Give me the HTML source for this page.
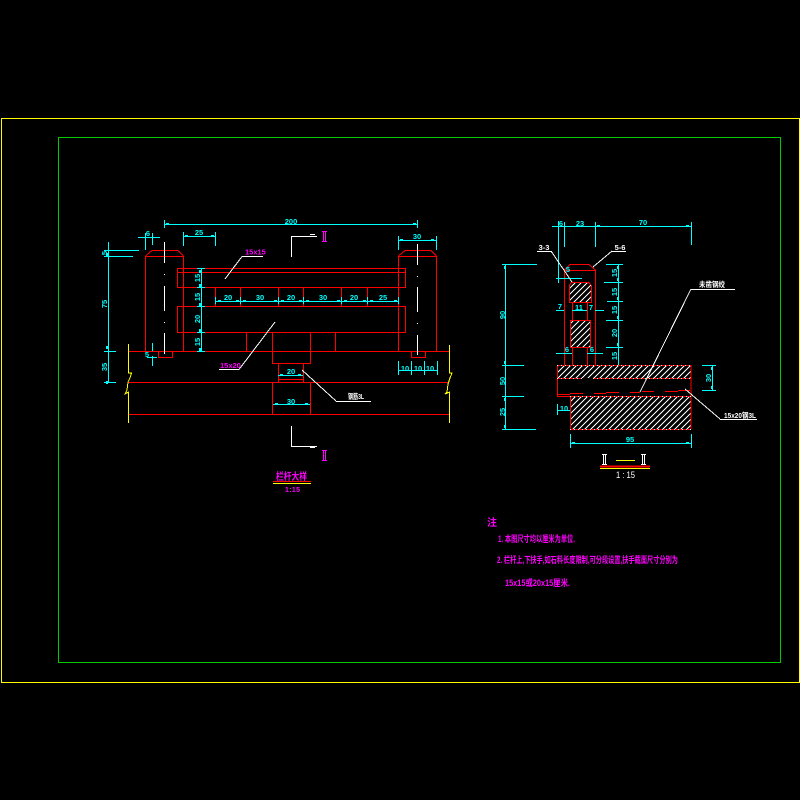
<!DOCTYPE html>
<html><head><meta charset="utf-8"><style>
html,body{margin:0;padding:0;background:#000}
svg{display:block}
text{font-family:"Liberation Sans","Noto Sans CJK SC",sans-serif;font-size:7.5px;font-weight:bold;text-anchor:middle}
.r{stroke:#f00;fill:none}.c{stroke:#0ff;fill:none}.w{stroke:#fff;fill:none}.y{stroke:#ff0;fill:none}
.ct{fill:#0ff}.mt{fill:#f0f;text-anchor:start}.wt{fill:#fff}
</style></head><body>
<svg width="800" height="800" viewBox="0 0 800 800" xmlns="http://www.w3.org/2000/svg" shape-rendering="crispEdges">
<defs><pattern id="h" width="6" height="6" patternUnits="userSpaceOnUse"><path d="M-1 7L7 -1M-1 1L1 -1M5 7L7 5" stroke="#fff" stroke-width="1"/></pattern></defs>
<rect width="800" height="800" fill="#000"/>
<rect x="1.5" y="118.5" width="798" height="564" class="y"/>
<rect x="58.5" y="137.5" width="722" height="525" stroke="#0c0" fill="none"/>

<!-- left elevation red -->
<g class="r">
<path d="M145.5 351V256.5H183.5V351M398.5 351V256.5H436.5V351"/>
<path d="M177.5 268.5H405.5V287.5H177.5ZM177.5 272.5H405.5M177.5 306.5H405.5V332.5H177.5Z"/>
<path d="M215.5 287.5V306.5M240.5 287.5V306.5M278.5 287.5V306.5M303.5 287.5V306.5M341.5 287.5V306.5M367.5 287.5V306.5M398.5 287.5V306.5"/>
<path d="M128 351.5H449M128 382.5H449M128 414.5H449"/>
<path d="M246.5 332.5V351M335.5 332.5V351M272.5 332.5V363.5H310.5V332.5M278.5 363.5V382M303.5 363.5V382M278.5 379.5H303.5M272.5 382.5V414M310.5 382.5V414"/>
<path d="M158.5 351V357.5H172.5V351M411.5 351V357.5H425.5V351"/>
<path d="M145.5 256L152 250.5H178L183.5 256M398.5 256L405 250.5H431L436.5 256"/>
</g>
<!-- centre lines -->
<g class="w">
<path d="M164.5 242V263M164.5 274V275M164.5 286V311M164.5 322V323M164.5 333V354"/>
<path d="M417.5 244V265M417.5 276V277M417.5 287V312M417.5 323V324M417.5 335V355"/>
<path d="M291.5 257V236.5H317M310 234.5H315M291.5 426V446.5H317M310 447.5H315"/>
<path d="M219 369.5H239M242 256.5H263M336 401.5H371"/>
<path d="M225 279L242 256.5M275 322L239 369.5M302 370L336 401"/>
</g>
<!-- break lines -->
<path class="y" d="M128.5 344V373L131.5 373L130 378L128 382L127 390L125 394L128.5 392V423"/>
<path class="y" d="M449.5 345V373L452 373L450 378L448 384L447 392L445 394L449.5 392V423"/>

<!-- left dims -->
<g class="c">
<path d="M164.5 220V228M164 224.5H417M417.5 220V228"/>
<path d="M183.5 232V246M215.5 232V246M183 236.5H216"/>
<path d="M145.5 233V250M152.5 233V245M138 237.5H160"/>
<path d="M398.5 236V250M436.5 236V250M398 240.5H436"/>
<path d="M108.5 242V382M104 250.5H139M104 256.5H133M104 351.5H116M104 382.5H116"/>
<path d="M201.5 268V351M197 268.5H205M197 287.5H205M197 306.5H205M197 332.5H205M197 351.5H205"/>
<path d="M215 301.5H398"/>
<path d="M215.5 297V304M240.5 297V304M278.5 297V304M303.5 297V304M341.5 297V304M367.5 297V304M398.5 297V304"/>
<path d="M278 375.5H303M273 404.5H310"/>
<path d="M398.5 361V375M411.5 361V375M424.5 361V375M437.5 361V375M398 370.5H437"/>
<path d="M152.5 343V351M152.5 356V366M147 357.5H157"/>
</g>
<path stroke="#0ff" stroke-width="2" fill="none" d="M166 224h3M413 224h3M185 236h3M211 236h3M400 240h3M431 240h3M107 253v3M107 346v3M107 384v-3M200 270v3M200 284v3M200 303v3M200 329v3M200 348v3M218 301h3M236 301h3M243 301h3M274 301h3M281 301h3M299 301h3M306 301h3M337 301h3M344 301h3M363 301h3M370 301h3M394 301h3M280 375h3M298 375h3M275 404h3M305 404h3"/>
<g class="ct">
<text x="291" y="224">200</text>
<text x="199" y="235">25</text><text x="148" y="236">6</text><text x="417" y="239">30</text>
<text transform="translate(107,253) rotate(-90)">5</text>
<text transform="translate(107,304) rotate(-90)">75</text>
<text transform="translate(107,367) rotate(-90)">35</text>
<text transform="translate(200,278) rotate(-90)">15</text>
<text transform="translate(200,297) rotate(-90)">15</text>
<text transform="translate(200,319) rotate(-90)">20</text>
<text transform="translate(200,342) rotate(-90)">15</text>
<text x="228" y="300">20</text><text x="260" y="300">30</text><text x="291" y="300">20</text><text x="323" y="300">30</text><text x="354" y="300">20</text><text x="383" y="300">25</text>
<text x="291" y="374">20</text><text x="291" y="404">30</text>
<text x="405" y="371">10</text><text x="418" y="371">10</text><text x="430" y="371">10</text>
<text x="147" y="357">5</text>
</g>
<text class="mt" x="245" y="254.5">15x15</text>
<text class="mt" x="220" y="368">15x20</text>
<text class="wt" x="356" y="399" font-size="8" textLength="16" lengthAdjust="spacingAndGlyphs">钢筋3L</text>
<path d="M323.5 231V242M325.5 231V242M322 231.5H327M322 241.5H327M323.5 450V461M325.5 450V461M322 450.5H327M322 460.5H327" stroke="#f0f" fill="none"/>
<text class="mt" x="276" y="480" style="font-size:10px" textLength="31" lengthAdjust="spacingAndGlyphs">栏杆大样</text>
<path d="M273 481.5H311" class="r"/><path d="M273 483.5H311" class="y"/>
<text class="mt" x="285" y="492" style="font-size:7px" textLength="15">1:15</text>

<!-- right section -->
<rect x="557" y="365" width="134" height="13" fill="url(#h)"/>
<rect x="570" y="396" width="121" height="33" fill="url(#h)"/>
<path d="M569 285L572 282H588L591 285V302H569Z" fill="url(#h)"/>
<rect x="570" y="320" width="20" height="27" fill="url(#h)"/>
<g class="r">
<path d="M564.5 365V270.5H595.5V365"/>
<path d="M569.5 285V302.5H591.5V285M572 282.5H588"/>
<rect x="570.5" y="320.5" width="20" height="27"/>
<path d="M572.5 302V320M587.5 302V320M572.5 347V365M587.5 347V365"/>
<path d="M557.5 365V396.5H570M691 365V429M570.5 396V429"/>
<path d="M558 394.5H570M570 393.5H583M594 393.5H606M606 392.5H619M630 392.5H640M642 391.5H654M665 391.5H678M678 390.5H690"/>
<path d="M564.5 270L570 264.5H589L595.5 270M569.5 285L572 282M588 282L591 285"/>
</g>
<path class="w" d="M557 365.5H691M557 378.5H582M593 378.5H691M570 396.5H691M570 429.5H691" stroke-dasharray="1 3"/>
<path class="r" d="M557 365.5H691M557 378.5H582M593 378.5H691M570 396.5H691M570 429.5H691" stroke-dasharray="3 1" stroke-dashoffset="-1"/>
<g class="c">
<path d="M505.5 264V429M502 264.5H537M502 365.5H524M502 396.5H524M502 429.5H536"/>
<path d="M558.5 221V274M564.5 222V247M595.5 222V247M691.5 222V245M552 226.5H691"/>
<path d="M618.5 264V365M606 264.5H623M604 282.5H623M607 301.5H623M606 320.5H623M606 347.5H623"/>
<path d="M556 278.5H582M556 310.5H564M572 310.5H587M595 310.5H604M556 353.5H572M587 353.5H603"/>
<path d="M558.5 274V283"/>
<path d="M702 365.5H716M702 390.5H716M712.5 365V391"/>
<path d="M557.5 404V415M557 410.5H570"/>
<path d="M570.5 434V448M691.5 434V448M570 443.5H691"/>
</g>
<path stroke="#0ff" stroke-width="2" fill="none" d="M597 226h3M686 226h3M505 266v3M505 361v3M505 398v3M505 425v3M618 266v3M618 278v3M618 297v3M618 316v3M618 343v3M712 367v3M712 386v3M572 443h3M686 443h3"/>
<g class="ct">
<text x="561" y="226">6</text><text x="580" y="226">23</text><text x="643" y="225">70</text>
<text x="568" y="272">5</text><text x="560" y="309">7</text><text x="579" y="310">11</text><text x="591" y="310">7</text>
<text x="567" y="352">6</text><text x="592" y="352">6</text>
<text transform="translate(505,315) rotate(-90)">90</text>
<text transform="translate(505,381) rotate(-90)">50</text>
<text transform="translate(505,412) rotate(-90)">25</text>
<text transform="translate(617,273) rotate(-90)">15</text>
<text transform="translate(617,292) rotate(-90)">15</text>
<text transform="translate(617,310) rotate(-90)">15</text>
<text transform="translate(617,333) rotate(-90)">20</text>
<text transform="translate(617,356) rotate(-90)">15</text>
<text transform="translate(711,378) rotate(-90)">30</text>
<text x="564" y="411">10</text><text x="630" y="442">95</text>
</g>
<g class="w"><path d="M537 251.5H551M612 251.5H626M691 289.5H735M720 419.5H757"/>
<path d="M551 251L572 282M612 251L593 267M691 289L640 392M685 389L720 419"/></g>
<text class="wt" x="544" y="250">3-3</text>
<text class="wt" x="620" y="250">5-6</text>
<text class="wt" x="712" y="287" textLength="26" lengthAdjust="spacingAndGlyphs">未凿钢绞</text>
<text class="wt" x="740" y="418" textLength="32" lengthAdjust="spacingAndGlyphs">15x20钢3L</text>
<path d="M603.5 454V464M605.5 454V464M602 454.5H607M602 464.5H607M642.5 454V464M644.5 454V464M641 454.5H646M641 464.5H646" class="w"/>
<path d="M616 460.5H635M600 468.5H650" class="y"/>
<path d="M600 466.5H650" stroke="#f00" stroke-width="2"/>
<text class="wt" x="625.5" y="478" style="font-size:9px;font-weight:normal" textLength="19" lengthAdjust="spacingAndGlyphs">1 : 15</text>

<!-- notes -->
<text class="mt" x="487" y="526" style="font-size:10px">注</text>
<text class="mt" x="498" y="542" style="font-size:9px" textLength="77" lengthAdjust="spacingAndGlyphs">1. 本图尺寸均以厘米为单位.</text>
<text class="mt" x="497" y="563" style="font-size:9px" textLength="181" lengthAdjust="spacingAndGlyphs">2. 栏杆上,下扶手,如石料长度限制,可分段设置,扶手截面尺寸分别为</text>
<text class="mt" x="505" y="586" style="font-size:9px" textLength="65" lengthAdjust="spacingAndGlyphs">15x15或20x15厘米.</text>
</svg>
</body></html>
